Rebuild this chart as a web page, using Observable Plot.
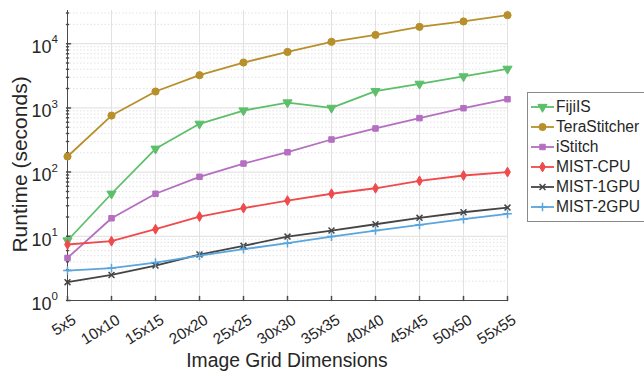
<!DOCTYPE html>
<html><head><meta charset="utf-8">
<script src="https://cdn.jsdelivr.net/npm/d3@7"></script>
<script src="https://cdn.jsdelivr.net/npm/@observablehq/plot@0.6"></script>
<style>
body{margin:0;background:#fff;font-family:"Liberation Sans",Arial,sans-serif;}
#wrap{position:relative;width:644px;height:378px;overflow:hidden;}
#legend{position:absolute;left:527px;top:92px;width:130px;height:124px;border:1px solid #8a8a8a;background:#fff;padding-top:4px;box-sizing:content-box;}
.row{display:flex;align-items:center;height:20px;font-size:15.6px;color:#262626;white-space:nowrap;}
.row svg{margin-left:2px;margin-right:2px;}
</style></head>
<body><div id="wrap"><div id="chart"></div><div id="legend"></div></div>
<script>
const categories = ["5x5","10x10","15x15","20x20","25x25","30x30","35x35","40x40","45x45","50x50","55x55"];
const fijiIS = [8.6, 46, 231, 565, 910, 1213, 1000, 1820, 2370, 3090, 4060];
const teraStitcher = [175, 760, 1800, 3230, 5090, 7440, 10700, 13700, 18300, 22200, 27800];
const iStitch = [4.6, 19.1, 46, 84.5, 136, 204, 322, 478, 693, 990, 1367];
const mistCPU = [7.45, 8.4, 12.9, 20.3, 27.5, 36, 46, 56, 73, 88.5, 100];
const mist1GPU = [1.93, 2.5, 3.5, 5.2, 7.1, 9.9, 12.3, 15.4, 19.4, 23.7, 28];
const mist2GPU = [2.93, 3.2, 3.9, 5.0, 6.3, 7.8, 9.9, 12.3, 15.1, 18.5, 22.4];
const decades = [1, 10, 100, 1000, 10000];
const exponents = ["0", "1", "2", "3", "4"];
const yMax = 32900;

const series = [
  {name:"FijiIS", values:fijiIS, color:"#5dbf6a", symbol:"triangle", rotate:180, r:3.4, filled:true},
  {name:"TeraStitcher", values:teraStitcher, color:"#b8902b", symbol:"circle", rotate:0, r:3.6, filled:true},
  {name:"iStitch", values:iStitch, color:"#b56fc0", symbol:"square", rotate:0, r:3.1, filled:true},
  {name:"MIST-CPU", values:mistCPU, color:"#ef4a4c", symbol:"diamond", rotate:0, r:3.0, filled:true},
  {name:"MIST-1GPU", values:mist1GPU, color:"#454545", symbol:"times", rotate:0, r:2.8, filled:false},
  {name:"MIST-2GPU", values:mist2GPU, color:"#5aa5dd", symbol:"plus", rotate:0, r:2.9, filled:false}
];

const minor = [];
decades.forEach(d => { for (let k = 2; k <= 9; k++) if (d*k <= yMax) minor.push(d*k); });
const ds = series.map(s => categories.map((c,i) => ({series:s.name, cat:c, value:s.values[i]})));

const font = '"Liberation Sans", Arial, sans-serif';
const tickShape = {draw(ctx, l) { ctx.moveTo(0, 0); ctx.lineTo(0, -l); }};

const marks = [
  Plot.ruleY(minor, {y: d => d, stroke: "#dcdcdc", strokeDasharray: "1.5,2", strokeWidth: 0.8}),
  Plot.ruleY(decades, {y: d => d, stroke: "#dedede", strokeWidth: 1}),
  Plot.ruleX(categories, {x: d => d, stroke: "#e2e2e2", strokeWidth: 1}),
  Plot.ruleX([categories[0]], {x: d => d, stroke: "#4a4a4a", strokeWidth: 1}),
  Plot.ruleY([decades[0]], {y: d => d, stroke: "#4a4a4a", strokeWidth: 1}),
  Plot.vector(decades, {y: d => d, frameAnchor: "left", length: 4, rotate: 90, anchor: "start", shape: tickShape, stroke: "#4a4a4a"}),
  Plot.vector(minor, {y: d => d, frameAnchor: "left", length: 2, rotate: 90, anchor: "start", shape: tickShape, stroke: "#4a4a4a"}),
  Plot.vector(categories, {x: d => d, frameAnchor: "bottom", length: 4, rotate: 0, anchor: "start", shape: tickShape, stroke: "#4a4a4a"}),
  Plot.text(decades, {y: d => d, frameAnchor: "left", text: () => "10", textAnchor: "end", dx: -15, dy: 3.5, fontSize: 18, fill: "#262626", fontFamily: font}),
  Plot.text(decades, {y: d => d, frameAnchor: "left", text: (d,i) => exponents[i], textAnchor: "end", dx: -8.5, dy: -4, fontSize: 11.5, fill: "#262626", fontFamily: font}),
  Plot.text(categories, {x: d => d, frameAnchor: "bottom", text: d => d, textAnchor: "end", lineAnchor: "middle", rotate: -32, dx: 7, dy: 18, fontSize: 15.5, fill: "#262626", fontFamily: font}),
  Plot.text(["Image Grid Dimensions"], {frameAnchor: "bottom", text: d => d, textAnchor: "middle", dy: 66, fontSize: 19.3, fill: "#262626", fontFamily: font}),
  Plot.text(["Runtime (seconds)"], {frameAnchor: "left", text: d => d, textAnchor: "middle", rotate: -90, dx: -46, dy: 9, fontSize: 21, fill: "#262626", fontFamily: font})
];
series.forEach((s, j) => {
  marks.push(Plot.line(ds[j], {x: "cat", y: "value", stroke: s.color, strokeWidth: 1.8}));
});
series.forEach((s, j) => {
  marks.push(Plot.dot(ds[j], {x: "cat", y: "value", symbol: s.symbol, r: s.r, rotate: s.rotate,
    fill: s.filled ? s.color : "none", stroke: s.color, strokeWidth: s.filled ? 1 : 1.5}));
});

const chart = Plot.plot({
  width: 644, height: 378,
  marginLeft: 66, marginRight: 137, marginTop: 10, marginBottom: 78,
  style: {background: "#fff", fontFamily: font, overflow: "visible"},
  x: {type: "point", domain: categories, padding: 0, axis: null},
  y: {type: "log", domain: [1, yMax], axis: null},
  marks
});
document.getElementById("chart").appendChild(chart);

// legend
const legend = document.getElementById("legend");
const symMap = {triangle: d3.symbolTriangle, circle: d3.symbolCircle, square: d3.symbolSquare, diamond: d3.symbolDiamond, times: d3.symbolTimes, plus: d3.symbolPlus};
series.forEach(s => {
  const row = document.createElement("div");
  row.className = "row";
  const area = Math.PI * s.r * s.r;
  const path = d3.symbol(symMap[s.symbol], area)();
  row.innerHTML = `<svg width="24" height="20"><line x1="1" x2="24" y1="10" y2="10" stroke="${s.color}" stroke-width="1.8"/>` +
    `<path d="${path}" transform="translate(12.5,10) rotate(${s.rotate})" fill="${s.filled ? s.color : "none"}" stroke="${s.color}" stroke-width="${s.filled ? 1 : 1.5}"/></svg><span>${s.name}</span>`;
  legend.appendChild(row);
});
</script></body></html>
